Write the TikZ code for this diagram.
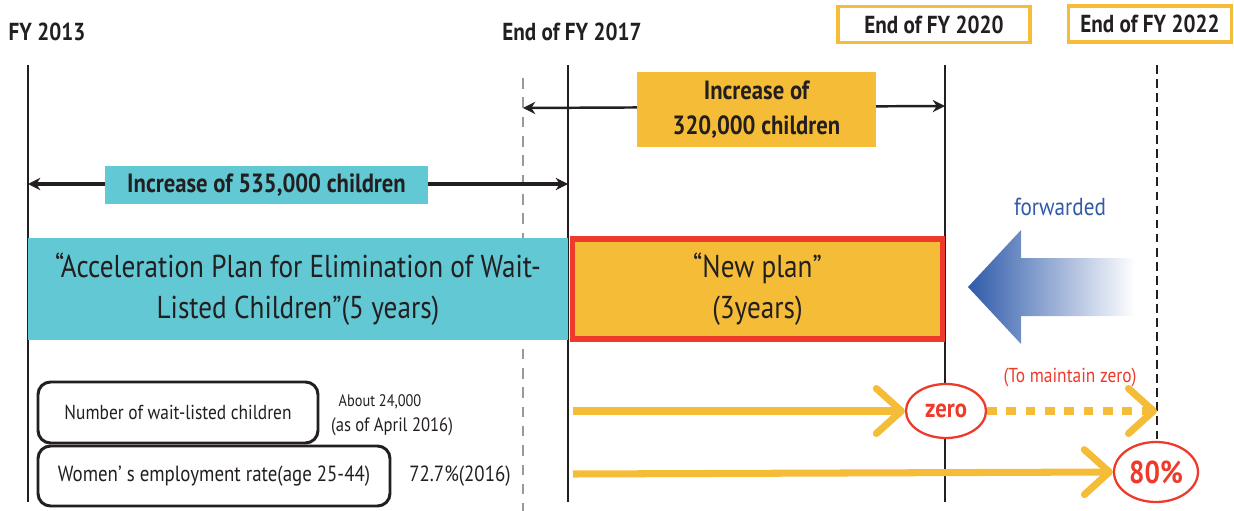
\documentclass[tikz,border=0pt]{standalone}
\usepackage{fontspec}
\setmainfont{PT Sans}[FakeStretch=0.86]
\usepackage{tikz}
\usetikzlibrary{arrows.meta, positioning, shapes.geometric, calc}
\definecolor{cyanbox}{HTML}{62C8D3}
\definecolor{orangebox}{HTML}{F5BC37}
\definecolor{redline}{HTML}{EE3A2A}
\definecolor{bluetext}{HTML}{2F5BAA}
\definecolor{inkblack}{HTML}{231F20}
\tikzstyle{yearline} = [line width=1.5pt, draw=inkblack]
\tikzstyle{span} = [line width=2pt, draw=inkblack, {Stealth[length=7pt,width=7pt]}-{Stealth[length=7pt,width=7pt]}]
\tikzstyle{yearlabel} = [font=\bfseries\fontsize{14}{16}\selectfont, text=inkblack]
\tikzstyle{yearbox} = [yearlabel, rectangle, draw=orangebox, line width=1.8pt, minimum height=0.72cm, fill=white]
\tikzstyle{countbox} = [font=\bfseries\fontsize{15}{20}\selectfont, text=inkblack, align=center]
\tikzstyle{planbox} = [rectangle, font=\fontsize{18}{23}\selectfont, text=inkblack, align=center, inner sep=0pt]
\tikzstyle{infobox} = [rectangle, rounded corners=0.25cm, draw=inkblack, line width=1.7pt, minimum height=1.2cm, font=\fontsize{11.5}{14}\selectfont, text=inkblack, fill=white]
\tikzstyle{goalarrow} = [line width=4pt, draw=orangebox, -{Straight Barb[length=5mm,width=9mm,round]}]
\tikzstyle{goal} = [ellipse, draw=redline, line width=1.3pt, fill=white, text=redline, inner sep=0pt]
\tikzstyle{note} = [text=inkblack, inner sep=1pt]
\begin{document}
\begin{tikzpicture}
\useasboundingbox (0,0) rectangle (24.68,-10.22);
%----------------------------------------------------------------------------
% Year marks
\node (fy13) [yearlabel] at (0.94,-0.64) {FY 2013};
\node (fy17) [yearlabel] at (11.44,-0.64) {End of FY 2017};
\node (fy20) [yearbox, minimum width=3.84cm] at (18.68,-0.49) {End of FY 2020};
\node (fy22) [yearbox, minimum width=3.26cm] at (23.0,-0.48) {End of FY 2022};

\coordinate (l13top) at (0.56,-1.3);
\coordinate (l13bot) at (0.56,-10.04);
\coordinate (l17top) at (11.36,-1.3);
\coordinate (l17bot) at (11.36,-10.04);
\coordinate (l20top) at (18.9,-1.3);
\coordinate (l20bot) at (18.9,-10.04);
\coordinate (dgtop) at (10.46,-1.56);
\coordinate (dgbot) at (10.46,-10.22);
\coordinate (l22top) at (23.14,-1.3);

\draw [yearline] (l13top) -- (l13bot);
\draw [yearline] (l17top) -- (l17bot);
\draw [yearline] (l20top) -- (l20bot);
\draw [line width=1.3pt, draw=black!40, dash pattern=on 6pt off 5pt] (dgtop) -- (dgbot);

%----------------------------------------------------------------------------
% Increase spans
\coordinate (s535a) at (0.56,-3.68);
\coordinate (s535b) at (11.36,-3.68);
\draw [span] (s535a) -- (s535b);
\node (inc535) [countbox, fill=cyanbox, minimum width=6.46cm, minimum height=0.76cm] at (5.33,-3.7) {Increase of 535,000 children};

\coordinate (s320a) at (10.46,-2.16);
\coordinate (s320b) at (18.9,-2.12);
\draw [span, line width=1.4pt] (s320a) -- (s320b);
\node (inc320) [countbox, fill=orangebox, minimum width=4.78cm, minimum height=1.5cm] at (15.13,-2.19) {Increase of\\320,000 children};

%----------------------------------------------------------------------------
% Plans
\node (accel) [planbox, fill=cyanbox, minimum width=10.8cm, minimum height=2.04cm] at (5.96,-5.78) {“Acceleration Plan for Elimination of Wait-\\Listed Children”(5 years)};
\node (newplan) [planbox, fill=orangebox, draw=redline, line width=3.4pt, minimum width=7.4cm, minimum height=2.0cm] at (15.15,-5.78) {“New plan”\\(3years)};

% forwarded arrow
\shade [left color=bluetext, middle color=blue!30!cyan!50, right color=white, shading angle=90]
  (19.36,-5.74) -- (20.42,-4.6) -- (20.42,-5.16) -- (22.7,-5.16) -- (22.7,-6.32) -- (20.42,-6.32) -- (20.42,-6.88) -- cycle;
\node (fwd) [text=bluetext, font=\fontsize{14}{16}\selectfont] at (21.2,-4.14) {forwarded};

%----------------------------------------------------------------------------
% Targets
\node (waitbox) [infobox, minimum width=5.6cm, minimum height=1.22cm] at (3.56,-8.25) {Number of wait-listed children};
\node (womenbox) [infobox, minimum width=7.04cm, font=\fontsize{12.5}{14}\selectfont] at (4.28,-9.52) {Women’ s employment rate(age 25-44)};

\node (about) [note, font=\fontsize{9.5}{11}\selectfont] at (7.6,-8.04) {About 24,000};
\node (asof) [note, font=\fontsize{11}{13}\selectfont] at (7.84,-8.54) {(as of April 2016)};
\node (rate) [note, font=\fontsize{12.5}{14}\selectfont] at (9.2,-9.52) {72.7\%(2016)};

\node (zero) [goal, minimum width=1.6cm, minimum height=1.08cm, font=\bfseries\fontsize{15}{17}\selectfont] at (18.92,-8.22) {zero};
\node (eighty) [goal, minimum width=1.68cm, minimum height=1.2cm, font=\bfseries\fontsize{18}{20}\selectfont] at (23.12,-9.44) {80\%};
\node (keep) [text=redline, font=\fontsize{11.5}{13}\selectfont] at (21.4,-7.56) {(To maintain zero)};

\draw [line width=1.4pt, draw=inkblack, dash pattern=on 5pt off 3pt] (l22top) -- (eighty.north -| l22top);

\coordinate (g1start) at (11.46,-8.22);
\coordinate (g1end) at (23.14,-8.22);
\coordinate (g2start) at (11.46,-9.48);
\draw [goalarrow] (g1start) -- (zero.west);
\draw [goalarrow, dash pattern=on 5.5pt off 5.5pt] (zero.east) -- (g1end);
\draw [goalarrow] (g2start) -- (eighty.west);
\end{tikzpicture}
\end{document}
